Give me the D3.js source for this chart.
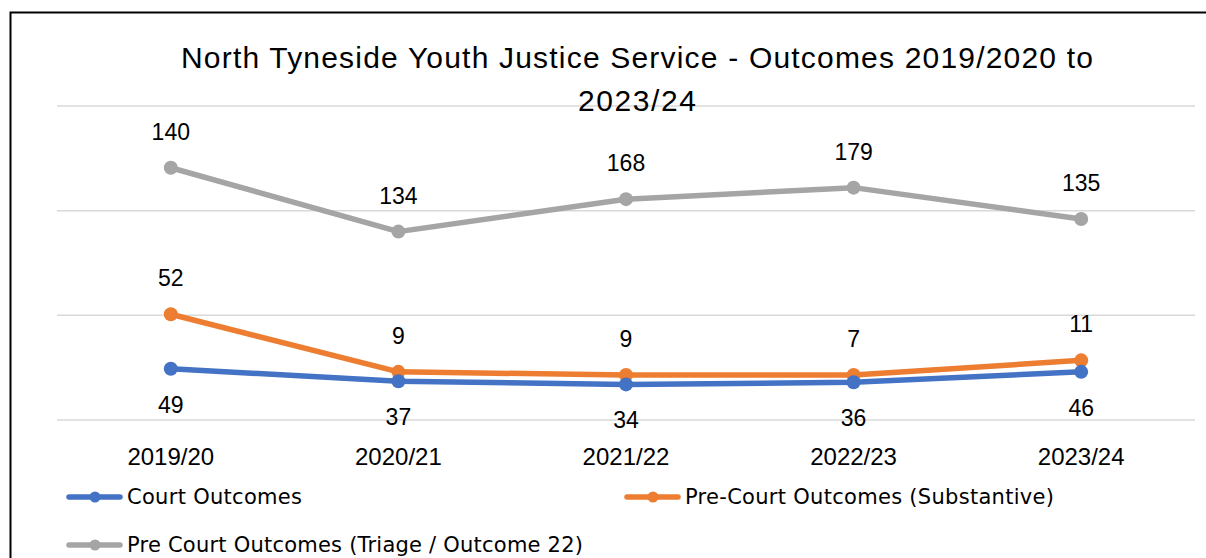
<!DOCTYPE html>
<html><head><meta charset="utf-8">
<script src="https://cdn.jsdelivr.net/npm/d3@7"></script>
<style>html,body{margin:0;padding:0;background:#fff;}svg{display:block;}</style>
</head><body>
<svg id="c" width="1206" height="558"></svg>
<script>
const categories = ["2019/20","2020/21","2021/22","2022/23","2023/24"];
const courtOutcomes = [49,37,34,36,46];
const preCourtSubstantive = [52,9,9,7,11];
const preCourtTriage = [140,134,168,179,135];
const seriesNames = ["Court Outcomes","Pre-Court Outcomes (Substantive)","Pre Court Outcomes (Triage / Outcome 22)"];
const seriesColors = ["#4472C4","#ED7D31","#A5A5A5"];
const yTicks = [0,100,200,300];

const svg = d3.select("#c");
const W = 1206, H = 558;
const plot = {left:57, right:1195, top:106, bottom:420};
const titleFont = "'Liberation Sans', Arial, sans-serif";
const legendFont = "'DejaVu Sans', sans-serif";
const numFont = "'Liberation Sans', Arial, sans-serif";

svg.append("rect").attr("x",10.5).attr("y",12.5).attr("width",W).attr("height",H)
  .attr("fill","#fff").attr("stroke","#000").attr("stroke-width",2);

const x = d3.scaleBand().domain(categories).range([plot.left, plot.right]);
const y = d3.scaleLinear().domain([0,300]).range([plot.bottom, plot.top]);

svg.append("g").selectAll("line").data(yTicks).join("line")
  .attr("x1",plot.left).attr("x2",plot.right)
  .attr("y1",d=>y(d)).attr("y2",d=>y(d))
  .attr("stroke","#d9d9d9").attr("stroke-width",1.5);

const raw = [courtOutcomes, preCourtSubstantive, preCourtTriage];
const stacked = [];
let cum = categories.map(()=>0);
raw.forEach((arr,i)=>{
  cum = cum.map((c,j)=>c+arr[j]);
  stacked.push(cum.slice());
});

const cx = c => x(c) + x.bandwidth()/2;
const line = d3.line().x((d,j)=>cx(categories[j])).y(d=>y(d));

[2,1,0].forEach(i=>{
  const g = svg.append("g");
  g.append("path").datum(stacked[i]).attr("d",line)
    .attr("fill","none").attr("stroke",seriesColors[i]).attr("stroke-width",5.5)
    .attr("stroke-linejoin","round").attr("stroke-linecap","round");
  g.selectAll("circle").data(stacked[i]).join("circle")
    .attr("cx",(d,j)=>cx(categories[j])).attr("cy",d=>y(d)).attr("r",7)
    .attr("fill",seriesColors[i]);
});

raw.forEach((arr,i)=>{
  svg.append("g").selectAll("text").data(arr).join("text")
    .attr("x",(d,j)=>cx(categories[j]))
    .attr("y",(d,j)=> i===0 ? y(stacked[i][j]) + 36 : y(stacked[i][j]) - 36)
    .attr("dy","0.35em").attr("text-anchor","middle")
    .attr("font-family",numFont).attr("font-size",23).attr("fill","#000")
    .text(d=>d);
});

svg.append("g").selectAll("text").data(categories).join("text")
  .attr("x",d=>cx(d)).attr("y",457).attr("dy","0.35em").attr("text-anchor","middle")
  .attr("font-family",numFont).attr("font-size",24).attr("fill","#000").text(d=>d);

const title = svg.append("text").attr("text-anchor","middle")
  .attr("font-family",titleFont).attr("font-size",30).attr("fill","#000");
title.append("tspan").attr("x",637).attr("y",68)
  .attr("textLength",912).attr("lengthAdjust","spacing")
  .text("North Tyneside Youth Justice Service - Outcomes 2019/2020 to");
title.append("tspan").attr("x",637).attr("y",111)
  .attr("textLength",118).attr("lengthAdjust","spacing").text("2023/24");

const legendItems = [
  {i:0, x:67, y:497, w:175},
  {i:1, x:625, y:497, w:369},
  {i:2, x:67, y:545, w:456}
];
legendItems.forEach(it=>{
  const g = svg.append("g");
  g.append("line").attr("x1",it.x+2).attr("x2",it.x+53).attr("y1",it.y).attr("y2",it.y)
    .attr("stroke",seriesColors[it.i]).attr("stroke-width",5.5).attr("stroke-linecap","round");
  g.append("circle").attr("cx",it.x+28).attr("cy",it.y).attr("r",5.5).attr("fill",seriesColors[it.i]);
  g.append("text").attr("x",it.x+60).attr("y",it.y).attr("dy","0.35em")
    .attr("font-family",legendFont).attr("font-size",21).attr("fill","#000")
    .attr("textLength",it.w).attr("lengthAdjust","spacing")
    .text(seriesNames[it.i]);
});
</script>
</body></html>
